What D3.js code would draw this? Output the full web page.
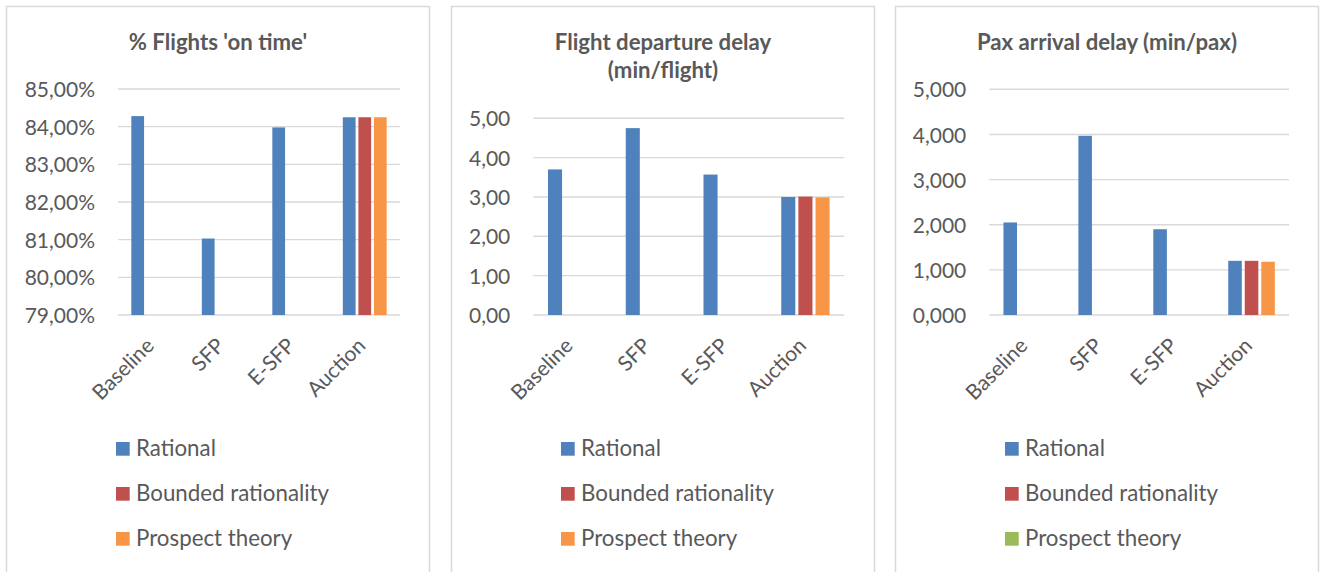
<!DOCTYPE html>
<html>
<head>
<meta charset="utf-8">
<script src="https://cdn.jsdelivr.net/npm/d3@7"></script>
<style>
  html, body { margin: 0; padding: 0; background: #ffffff; }
  svg { display: block; }
  text { font-family: Lato, "Open Sans", "Liberation Sans", sans-serif; fill: #595959; }
</style>
</head>
<body>
<svg id="chart" width="1321" height="572"></svg>
<script>
// Scenario categories and behaviour series
const categories = ["Baseline", "SFP", "E-SFP", "Auction"];
const seriesNames = ["Rational", "Bounded rationality", "Prospect theory"];

// % flights on time (percent)
const onTimeRational = [84.28, 81.03, 83.98, 84.25];
const onTimeBounded  = [null, null, null, 84.25];
const onTimeProspect = [null, null, null, 84.25];

// Flight departure delay (min/flight)
const depDelayRational = [3.70, 4.75, 3.57, 3.00];
const depDelayBounded  = [null, null, null, 3.01];
const depDelayProspect = [null, null, null, 2.99];

// Pax arrival delay (min/pax)
const paxDelayRational = [2.05, 3.97, 1.90, 1.20];
const paxDelayBounded  = [null, null, null, 1.20];
const paxDelayProspect = [null, null, null, 1.18];

// Axis tick values
const onTimeTicks = [79, 80, 81, 82, 83, 84, 85];
const depDelayTicks = [0, 1, 2, 3, 4, 5];
const paxDelayTicks = [0, 1, 2, 3, 4, 5];

const barColors = ["#4F81BD", "#C0504D", "#F79646"];

// Comma as decimal separator
const locale = d3.formatLocale({ decimal: ",", thousands: ".", grouping: [3], currency: ["", "€"] });

const svg = d3.select("#chart");

function drawPanel(opt) {
  const g = svg.append("g").attr("transform", `translate(${opt.left},6)`);

  // frame
  g.append("rect")
    .attr("x", 0.5).attr("y", 0.5)
    .attr("width", 423).attr("height", 600)
    .attr("fill", "#ffffff")
    .attr("stroke", "#d9d9d9").attr("stroke-width", 1.5);

  // title
  const title = g.append("text")
    .attr("x", 212).attr("y", 44)
    .attr("text-anchor", "middle")
    .style("font-weight", "bold")
    .style("font-size", "22.2px");
  opt.title.forEach((line, i) => {
    title.append("tspan").attr("x", 212).attr("dy", i === 0 ? 0 : 28).text(line);
  });

  const plotBottom = 309;
  const y = d3.scaleLinear().domain(opt.domain).range([plotBottom, opt.plotTop]);
  const x0 = d3.scaleBand().domain(categories)
    .range([opt.plotLeft, opt.plotRight])
    .paddingInner(0.378).paddingOuter(0.189);
  const x1 = d3.scaleBand().domain(seriesNames)
    .range([0, x0.bandwidth()])
    .paddingInner(0.18);

  // gridlines
  g.append("g").selectAll("line").data(opt.ticks).join("line")
    .attr("x1", opt.plotLeft).attr("x2", opt.plotRight)
    .attr("y1", d => y(d)).attr("y2", d => y(d))
    .attr("stroke", "#d9d9d9").attr("stroke-width", 1.4);

  // y axis labels
  const yAxis = d3.axisLeft(y).tickValues(opt.ticks).tickFormat(opt.format).tickSize(0).tickPadding(23);
  const ya = g.append("g").attr("transform", `translate(${opt.plotLeft},0)`).call(yAxis);
  ya.select(".domain").remove();
  ya.selectAll("text")
    .attr("fill", "#595959")
    .style("font-family", "Lato, 'Open Sans', sans-serif")
    .style("font-size", "21px")
    .attr("dy", "0.36em");

  // bars
  const rows = [];
  opt.values.forEach((vals, si) => {
    vals.forEach((v, ci) => {
      if (v !== null) rows.push({ cat: categories[ci], series: seriesNames[si], si, v });
    });
  });
  g.append("g").selectAll("rect").data(rows).join("rect")
    .attr("x", d => x0(d.cat) + x1(d.series))
    .attr("width", x1.bandwidth())
    .attr("y", d => y(Math.max(d.v, opt.domain[0])))
    .attr("height", d => plotBottom - y(Math.max(d.v, opt.domain[0])))
    .attr("fill", d => barColors[d.si]);

  // category labels, rotated
  g.append("g").selectAll("text").data(categories).join("text")
    .attr("transform", d => `translate(${x0(d) + x0.bandwidth() / 2 + 2},341) rotate(-45)`)
    .attr("text-anchor", "end")
    .style("font-size", "21px")
    .text(d => d);

  // legend
  const lg = g.append("g").selectAll("g").data(seriesNames).join("g")
    .attr("transform", (d, i) => `translate(110,${450 + i * 45})`);
  lg.append("rect")
    .attr("x", 0).attr("y", -14).attr("width", 13.7).attr("height", 13.7)
    .attr("fill", (d, i) => opt.legendColors[i]);
  lg.append("text")
    .attr("x", 20).attr("y", 0)
    .style("font-size", "22.3px")
    .text(d => d);
}

const fmt2 = locale.format(".2f");
const fmt3 = locale.format(".3f");

drawPanel({
  left: 6,
  title: ["% Flights 'on time'"],
  domain: [79, 85], ticks: onTimeTicks, format: d => fmt2(d) + "%",
  plotLeft: 112, plotRight: 394, plotTop: 83,
  values: [onTimeRational, onTimeBounded, onTimeProspect],
  legendColors: barColors
});

drawPanel({
  left: 451,
  title: ["Flight departure delay", "(min/flight)"],
  domain: [0, 5], ticks: depDelayTicks, format: d => fmt2(d),
  plotLeft: 82.3, plotRight: 393.3, plotTop: 112.3,
  values: [depDelayRational, depDelayBounded, depDelayProspect],
  legendColors: barColors
});

drawPanel({
  left: 895,
  title: ["Pax arrival delay (min/pax)"],
  domain: [0, 5], ticks: paxDelayTicks, format: d => fmt3(d),
  plotLeft: 94.3, plotRight: 394, plotTop: 83.3,
  values: [paxDelayRational, paxDelayBounded, paxDelayProspect],
  legendColors: ["#4F81BD", "#C0504D", "#9BBB59"]
});
</script>
</body>
</html>
